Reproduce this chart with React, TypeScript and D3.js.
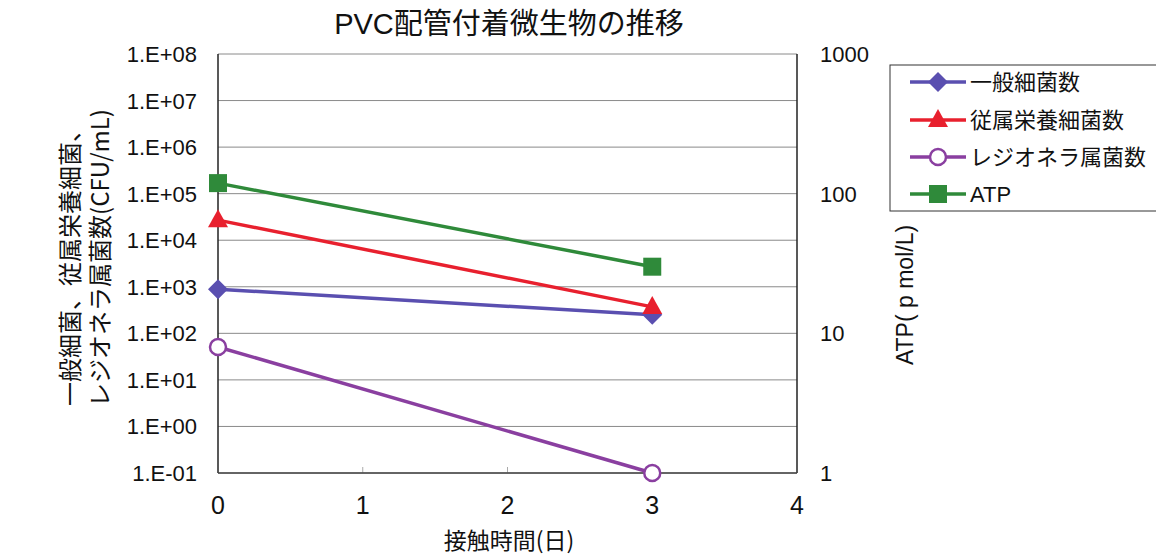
import React from "react";
import * as d3 from "d3";

const days = [0, 3];
const generalBacteria = [890, 250];
const heterotrophic = [27000, 370];
const legionella = [51, 0.1];
const atp = [119, 30];

const leftTicks = [1e-1, 1e0, 1e1, 1e2, 1e3, 1e4, 1e5, 1e6, 1e7, 1e8];
const leftTickLabels = ["1.E-01", "1.E+00", "1.E+01", "1.E+02", "1.E+03", "1.E+04", "1.E+05", "1.E+06", "1.E+07", "1.E+08"];
const rightTicks = [1, 10, 100, 1000];
const xTicks = [0, 1, 2, 3, 4];

const seriesNames = ["一般細菌数", "従属栄養細菌数", "レジオネラ属菌数", "ATP"];
const seriesColors = ["#5a4fb0", "#e8202e", "#8a3fa0", "#2f8a3a"];

const W = 1156, H = 556;
const L = 218, R = 797, T = 54, B = 473;
const FONT = "'Liberation Sans', Arial, 'Noto Sans CJK JP', sans-serif";
const NARROW = "'Liberation Sans Narrow', 'Liberation Sans', Arial, sans-serif";
const JFONT = "'Noto Sans CJK JP', sans-serif";

function Marker({ kind, x, y, color }: { kind: number; x: number; y: number; color: string }) {
  if (kind === 0) {
    const s = 10;
    return <path d={`M${x},${y - s} L${x + s},${y} L${x},${y + s} L${x - s},${y} Z`} fill={color} />;
  }
  if (kind === 1) {
    return <path d={`M${x},${y - 11} L${x + 10},${y + 7} L${x - 10},${y + 7} Z`} fill={color} />;
  }
  if (kind === 2) {
    return <circle cx={x} cy={y} r={8} fill="#fff" stroke={color} strokeWidth={2.5} />;
  }
  return <rect x={x - 9} y={y - 9} width={18} height={18} fill={color} />;
}

export default function App() {
  const x = d3.scaleLinear().domain([0, 4]).range([L, R]);
  const yL = d3.scaleLog().domain([1e-1, 1e8]).range([B, T]);
  const yR = d3.scaleLog().domain([1, 1000]).range([B, T]);

  const line = d3.line<[number, number]>().x(d => d[0]).y(d => d[1]);

  const leftSeries = [generalBacteria, heterotrophic, legionella];
  const allSeries = [
    ...leftSeries.map(s => days.map((d, i) => [x(d), yL(s[i])] as [number, number])),
    days.map((d, i) => [x(d), yR(atp[i])] as [number, number]),
  ];

  const legendY = [82, 120, 157, 194];

  return (
    <svg width={W} height={H} style={{ position: "absolute", left: 0, top: 0, background: "#fff" }}>
      <rect x={0} y={0} width={W} height={H} fill="#fff" />
      <text x={509} y={34} textAnchor="middle" fontSize={29} fontFamily={FONT} fill="#111">PVC配管付着微生物の推移</text>

      {leftTicks.map((t, i) => (
        <line key={"g" + i} x1={L} x2={R} y1={yL(t)} y2={yL(t)} stroke="#8a8a8a" strokeWidth={1} />
      ))}
      {[1, 2].map(t => (
        <line key={"xt" + t} x1={x(t)} x2={x(t)} y1={B} y2={B - 6} stroke="#aaa" strokeWidth={1} />
      ))}
      <line x1={L} x2={L} y1={T} y2={B} stroke="#222" strokeWidth={1.5} />
      <line x1={R} x2={R} y1={T} y2={B} stroke="#222" strokeWidth={1.5} />
      <line x1={L} x2={R} y1={B} y2={B} stroke="#444" strokeWidth={1.5} />

      {leftTicks.map((t, i) => (
        <text key={"lt" + i} x={197} y={yL(t) + 8} textAnchor="end" fontSize={22} fontFamily={FONT} fill="#111">{leftTickLabels[i]}</text>
      ))}
      {rightTicks.map((t, i) => (
        <text key={"rt" + i} x={820} y={yR(t) + 8} textAnchor="start" fontSize={22} fontFamily={FONT} fill="#111">{t}</text>
      ))}
      {xTicks.map((t, i) => (
        <text key={"xl" + i} x={x(t)} y={514} textAnchor="middle" fontSize={25} fontFamily={NARROW} fill="#111">{t}</text>
      ))}
      <text x={509} y={549} textAnchor="middle" fontSize={23} fontFamily={JFONT} fill="#111">接触時間(日)</text>

      <text transform="translate(70,262) rotate(-90)" dy={9} textAnchor="middle" fontSize={24} fontFamily={JFONT} fill="#111">一般細菌、従属栄養細菌、</text>
      <text transform="translate(100,258) rotate(-90)" dy={9} textAnchor="middle" fontSize={24} fontFamily={JFONT} fill="#111">レジオネラ属菌数(CFU/mL)</text>
      <text transform="translate(905,295) rotate(-90)" dy={8} textAnchor="middle" fontSize={23} fontFamily={FONT} fill="#111">ATP( p mol/L)</text>

      {allSeries.map((pts, si) => (
        <path key={"l" + si} d={line(pts) || ""} fill="none" stroke={seriesColors[si]} strokeWidth={3.5} />
      ))}
      {allSeries.map((pts, si) =>
        pts.map((p, pi) => <Marker key={"m" + si + "_" + pi} kind={si} x={p[0]} y={p[1]} color={seriesColors[si]} />)
      )}

      <rect x={890} y={65} width={280} height={146} fill="#fff" stroke="#333" strokeWidth={1} />
      {seriesNames.map((n, i) => (
        <g key={"lg" + i}>
          <line x1={910} x2={966} y1={legendY[i]} y2={legendY[i]} stroke={seriesColors[i]} strokeWidth={3.5} />
          <Marker kind={i} x={938} y={legendY[i]} color={seriesColors[i]} />
          <text x={970} y={legendY[i] + 8} fontSize={22} fontFamily={i === 3 ? FONT : JFONT} fill="#111">{n}</text>
        </g>
      ))}
    </svg>
  );
}
